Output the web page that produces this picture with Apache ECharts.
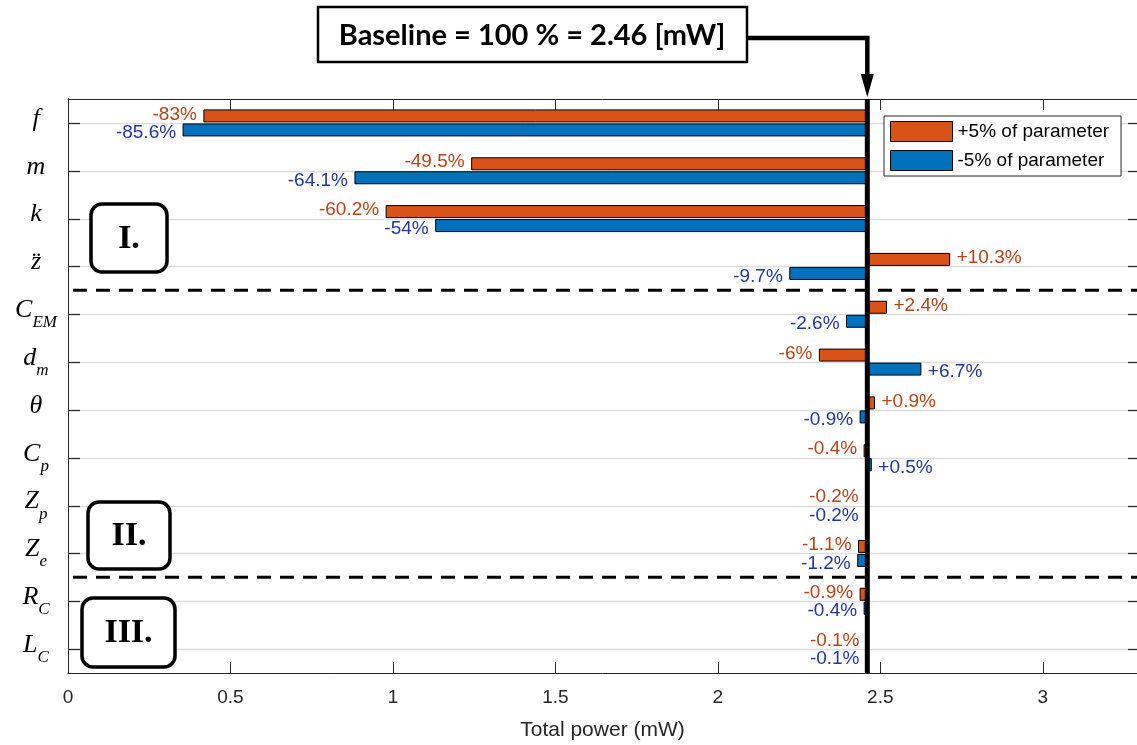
<!DOCTYPE html>
<html>
<head>
<meta charset="utf-8">
<script src="https://cdn.jsdelivr.net/npm/echarts@6/dist/echarts.min.js"></script>
<style>
html, body { margin: 0; padding: 0; background: #fff; }
#chart { width: 1137px; height: 745px; }
</style>
</head>
<body>
<div id="chart"></div>
<script>
// baseline power (mW)
var baseline = 2.46;
// parameters, top to bottom; "_" marks a subscript
var params = ['f', 'm', 'k', 'z\u0308', 'C_EM', 'd_m', '\u03b8', 'C_p', 'Z_p', 'Z_e', 'R_C', 'L_C'];
// change of total power in % for +5% and -5% of each parameter
var plusPct = [-83, -49.5, -60.2, 10.3, 2.4, -6, 0.9, -0.4, -0.2, -1.1, -0.9, -0.1];
var minusPct = [-85.6, -64.1, -54, -9.7, -2.6, 6.7, -0.9, 0.5, -0.2, -1.2, -0.4, -0.1];
var xTicks = [0, 0.5, 1, 1.5, 2, 2.5, 3];
// dashed group separators below these rows
var groupEnds = [3, 9];
var groupNames = ['I.', 'II.', 'III.'];

var seriesNames = ['+5% of parameter', '-5% of parameter'];
var colPlus = '#D95319', colMinus = '#0072BD';
var txtPlus = '#B4441A', txtMinus = '#22379B';
var axisCol = '#262626';

var chart = echarts.init(document.getElementById('chart'));

function toData(pcts) {
	var out = [];
	for (var i = 0; i < pcts.length; i++) {
		out.push([baseline * (1 + pcts[i] / 100), i, pcts[i]]);
	}
	return out;
}

// bar from the baseline to the value, above (-1) or below (+1) the row line
function barRenderer(side, fill, textFill) {
	return function (p, api) {
		var v = api.value(0), cat = api.value(1), pct = api.value(2);
		var a = api.coord([baseline, cat]);
		var b = api.coord([v, cat]);
		var cy = a[1];
		var x0 = Math.min(a[0], b[0]);
		var w = Math.abs(b[0] - a[0]);
		var y0 = side < 0 ? cy - 13 : cy + 1;
		var left = v < baseline;
		var label = (pct > 0 ? '+' : '') + pct + '%';
		return {
			type: 'group',
			children: [{
				type: 'rect',
				shape: { x: x0, y: y0, width: w, height: 12 },
				style: { fill: fill, stroke: '#000', lineWidth: 1 }
			}, {
				type: 'text',
				style: {
					text: label,
					x: left ? x0 - 7 : x0 + w + 7,
					y: cy + (side < 0 ? -8.5 : 10),
					align: left ? 'right' : 'left',
					textAlign: left ? 'right' : 'left',
					verticalAlign: 'middle',
					textVerticalAlign: 'middle',
					fill: textFill,
					font: '19px "Liberation Sans", Arial, sans-serif'
				}
			}]
		};
	};
}

var gridRows = [];
for (var i = 0; i < params.length; i++) gridRows.push([0, i]);
var sepRows = [];
for (var j = 0; j < groupEnds.length; j++) sepRows.push([0, groupEnds[j]]);

var option = {
	animation: false,
	backgroundColor: '#fff',
	grid: { left: 68, right: 0, top: 99, bottom: 72, containLabel: false, outerBoundsMode: 'none' },
	legend: {
		data: seriesNames,
		orient: 'vertical',
		left: 884,
		top: 116,
		itemWidth: 62,
		itemHeight: 20,
		itemGap: 8,
		icon: 'rect',
		padding: [5, 12, 5, 6],
		backgroundColor: '#fff',
		borderColor: axisCol,
		borderWidth: 1,
		borderRadius: 0,
		itemStyle: { borderColor: '#000', borderWidth: 1 },
		textStyle: { fontSize: 19, color: '#000', fontFamily: 'Liberation Sans' }
	},
	xAxis: [{
		type: 'value',
		position: 'bottom',
		min: 0,
		max: 3.29,
		interval: 0.5,
		axisLine: { show: true, lineStyle: { color: axisCol, width: 1 } },
		axisTick: { show: true, inside: true, length: 11, lineStyle: { color: axisCol } },
		axisLabel: {
			color: axisCol, fontSize: 19, fontFamily: 'Liberation Sans', margin: 15,
			showMaxLabel: false,
			formatter: function (v) { return xTicks.indexOf(v) >= 0 ? String(v) : ''; }
		},
		splitLine: { show: false },
		name: 'Total power (mW)',
		nameLocation: 'middle',
		nameGap: 47,
		nameTextStyle: { color: axisCol, fontSize: 21, fontFamily: 'Liberation Sans' }
	}, {
		type: 'value',
		position: 'top',
		min: 0,
		max: 3.29,
		interval: 0.5,
		axisLine: { show: true, lineStyle: { color: axisCol, width: 1 } },
		axisTick: { show: true, inside: true, length: 11, lineStyle: { color: axisCol } },
		axisLabel: { show: false },
		splitLine: { show: false }
	}],
	yAxis: [{
		type: 'category',
		data: params,
		inverse: true,
		position: 'left',
		axisLine: { show: true, lineStyle: { color: axisCol, width: 1 } },
		axisTick: { show: false },
		splitLine: { show: false },
		axisLabel: {
			margin: 32,
			align: 'center',
			formatter: function (s) {
				var k = s.indexOf('_');
				if (k < 0) return '{v|' + s + '}';
				return '{v|' + s.slice(0, k) + '}{s|' + s.slice(k + 1) + '}';
			},
			rich: {
				v: { fontFamily: 'Liberation Serif', fontStyle: 'italic', fontSize: 26, color: '#000', verticalAlign: 'bottom', padding: [0, 0, 8, 0] },
				s: { fontFamily: 'Liberation Serif', fontStyle: 'italic', fontSize: 17, color: '#000', verticalAlign: 'bottom' }
			}
		}
	}, {
		type: 'category',
		data: params,
		inverse: true,
		position: 'right',
		axisLine: { show: true, lineStyle: { color: axisCol, width: 1 } },
		axisTick: { show: false },
		axisLabel: { show: false },
		splitLine: { show: false }
	}],
	series: [{
		// light row lines at each parameter, with inward ticks on both sides
		type: 'custom',
		name: 'rows',
		z: 1,
		silent: true,
		data: gridRows,
		encode: { x: 0, y: 1 },
		renderItem: function (p, api) {
			var y = Math.round(api.coord([0, api.value(1)])[1]) + 0.5;
			var cs = p.coordSys;
			var xr = cs.x + cs.width;
			return {
				type: 'group',
				children: [
					{ type: 'line', shape: { x1: cs.x, y1: y, x2: xr, y2: y }, style: { stroke: '#dcdcdc', lineWidth: 1.5 } },
					{ type: 'line', shape: { x1: cs.x, y1: y, x2: cs.x + 12, y2: y }, style: { stroke: axisCol, lineWidth: 1.2 } },
					{ type: 'line', shape: { x1: xr - 9, y1: y, x2: xr, y2: y }, style: { stroke: axisCol, lineWidth: 1.2 } }
				]
			};
		}
	}, {
		type: 'custom',
		name: seriesNames[0],
		z: 3,
		itemStyle: { color: colPlus },
		data: toData(plusPct),
		encode: { x: 0, y: 1 },
		renderItem: barRenderer(-1, colPlus, txtPlus)
	}, {
		type: 'custom',
		name: seriesNames[1],
		z: 3,
		itemStyle: { color: colMinus },
		data: toData(minusPct),
		encode: { x: 0, y: 1 },
		renderItem: barRenderer(1, colMinus, txtMinus)
	}, {
		// dashed lines between parameter groups
		type: 'custom',
		name: 'groups',
		z: 4,
		silent: true,
		data: sepRows,
		encode: { x: 0, y: 1 },
		renderItem: function (p, api) {
			var idx = api.value(1);
			var y = api.coord([0, idx])[1] + api.size([0, 1])[1] / 2;
			var cs = p.coordSys;
			return { type: 'line', shape: { x1: cs.x + 5, y1: y, x2: cs.x + cs.width, y2: y }, style: { stroke: '#000', lineWidth: 3, lineDash: [14, 9] } };
		}
	}]
};
chart.setOption(option);

// annotations: baseline marker and group boxes
var bx = chart.convertToPixel({ xAxisIndex: 0 }, baseline);
var plotTop = 99, plotBottom = 673;
function groupBox(x, y, w, h, txt) {
	return [{
		type: 'rect', z: 100,
		shape: { x: x, y: y, width: w, height: h, r: 11 },
		style: { fill: '#fff', stroke: '#000', lineWidth: 3.5 }
	}, {
		type: 'text', z: 101,
		x: x + w / 2, y: y + h / 2 + 1,
		style: { text: txt, align: 'center', verticalAlign: 'middle', fill: '#000', font: 'bold 34px "Liberation Serif", serif' }
	}];
}
var g = [];
g = g.concat(groupBox(91, 204, 76, 68, groupNames[0]));
g = g.concat(groupBox(88, 502, 82, 67, groupNames[1]));
g = g.concat(groupBox(82, 598, 93, 69, groupNames[2]));
g.push({
	type: 'line', z: 100,
	shape: { x1: bx, y1: plotTop, x2: bx, y2: plotBottom },
	style: { stroke: '#000', lineWidth: 5 }
});
g.push({
	type: 'polyline', z: 100,
	shape: { points: [[747, 38], [bx, 38], [bx, 78]] },
	style: { stroke: '#000', lineWidth: 4.5, fill: null }
});
g.push({
	type: 'polygon', z: 100,
	shape: { points: [[bx - 6.5, 74], [bx + 6.5, 74], [bx, 97]] },
	style: { fill: '#000' }
});
g.push({
	type: 'rect', z: 100,
	shape: { x: 318, y: 7, width: 429, height: 55 },
	style: { fill: '#fff', stroke: '#000', lineWidth: 2.5 }
});
g.push({
	type: 'text', z: 101,
	x: 532, y: 36,
	style: { text: 'Baseline = 100 % = 2.46 [mW]', align: 'center', verticalAlign: 'middle', fill: '#000', font: 'bold 29px Lato, sans-serif' }
});
chart.setOption({ graphic: g });
</script>
</body>
</html>
